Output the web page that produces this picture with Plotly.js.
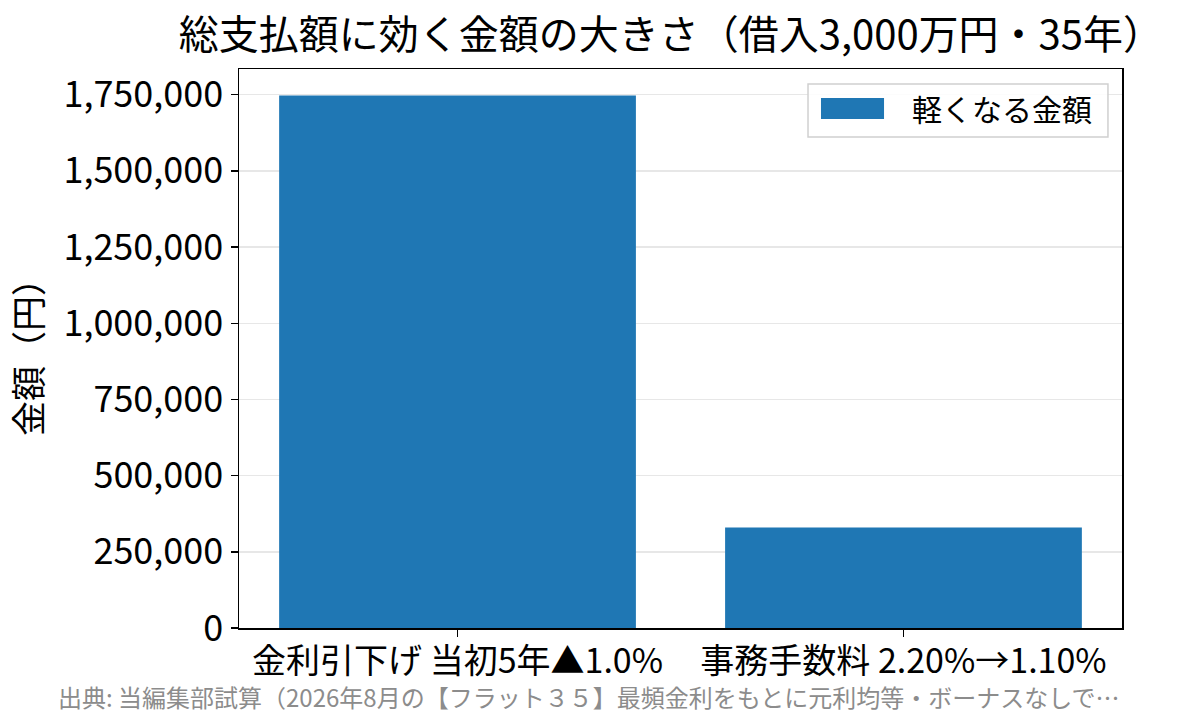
<!DOCTYPE html>
<html>
<head>
<meta charset="utf-8">
<script src="https://cdn.plot.ly/plotly-3.0.1.min.js"></script>
<style>html,body{margin:0;padding:0;background:#fff;}#chart{width:1198px;height:725px;}</style>
</head>
<body>
<div id="chart"></div>
<script>
const categories = ["金利引下げ 当初5年▲1.0%", "事務手数料 2.20%→1.10%"];
const reducedAmounts = [1747000, 330000];
const seriesName = "軽くなる金額";
const yTickValues = [0, 250000, 500000, 750000, 1000000, 1250000, 1500000, 1750000];
const titleText = "総支払額に効く金額の大きさ（借入3,000万円・35年）";
const yTitleText = "金額（円）";
const sourceText = "出典: 当編集部試算（2026年8月の【フラット３５】最頻金利をもとに元利均等・ボーナスなしで…";

const FONT = '"Noto Sans CJK JP", "Noto Sans", sans-serif';
const BAR_COLOR = '#1f77b4';
const ymax = Math.max(...reducedAmounts) * 1.05;

Plotly.newPlot('chart', [{
  type: 'bar',
  x: [0, 1],
  y: reducedAmounts,
  name: seriesName,
  width: 0.8,
  marker: {color: BAR_COLOR, line: {width: 0}},
  showlegend: false,
  hoverinfo: 'y'
}], {
  width: 1198, height: 725,
  paper_bgcolor: '#fff', plot_bgcolor: '#fff',
  margin: {l: 239, r: 76, t: 69, b: 97},
  font: {family: FONT, color: '#000'},
  title: {text: titleText, font: {size: 40, family: FONT, color: '#000'}, x: 0.56, xanchor: 'center', y: 0.952, yanchor: 'middle'},
  showlegend: false,
  xaxis: {
    range: [-0.49, 1.49],
    tickvals: [0, 1], ticktext: categories,
    tickfont: {size: 34, family: FONT},
    ticks: 'outside', ticklen: 7, tickwidth: 1.5, tickcolor: '#000',
    ticklabelstandoff: -4,
    showline: true, linecolor: '#000', linewidth: 1.5, mirror: true,
    showgrid: false, zeroline: false, fixedrange: true
  },
  yaxis: {
    range: [0, ymax],
    tickvals: yTickValues, tickformat: ',d',
    tickfont: {size: 36, family: FONT},
    ticks: 'outside', ticklen: 7, tickwidth: 1.5, tickcolor: '#000',
    showline: true, linecolor: '#000', linewidth: 1.5, mirror: true,
    showgrid: true, gridcolor: 'rgba(176,176,176,0.3)', gridwidth: 1.5,
    zeroline: false, layer: 'above traces',
    title: {text: yTitleText, font: {size: 35, family: FONT}, standoff: 10},
    fixedrange: true
  },
  shapes: [
    {type: 'rect', xref: 'paper', yref: 'paper', x0: 0.6444, x1: 0.9841, y0: 0.8784, y1: 0.9732,
     fillcolor: 'rgba(255,255,255,0.85)', line: {color: '#d0d0d0', width: 1.5}},
    {type: 'rect', xref: 'paper', yref: 'paper', x0: 0.6591, x1: 0.7305, y0: 0.9106, y1: 0.9481,
     fillcolor: BAR_COLOR, line: {width: 0}}
  ],
  annotations: [
    {text: seriesName, xref: 'paper', yref: 'paper', x: 0.7599, y: 0.9302,
     xanchor: 'left', yanchor: 'middle', showarrow: false,
     font: {size: 30, family: FONT, color: '#000'}},
    {text: sourceText, xref: 'paper', yref: 'paper', x: -0.2072, y: -0.1234,
     xanchor: 'left', yanchor: 'middle', showarrow: false,
     font: {size: 24, family: FONT, color: '#8c8c8c'}}
  ]
}, {displayModeBar: false, staticPlot: true});
</script>
</body>
</html>
